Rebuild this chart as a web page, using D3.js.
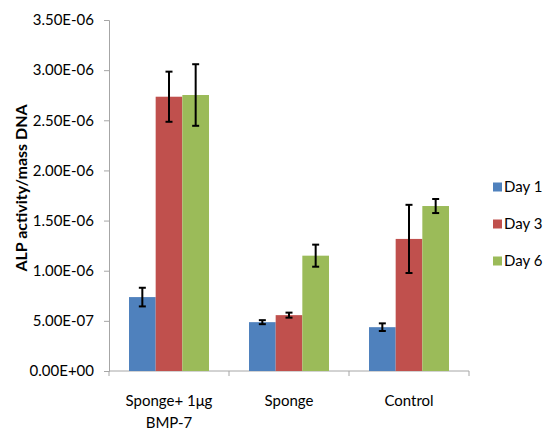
<!DOCTYPE html>
<html>
<head>
<meta charset="utf-8">
<script src="https://cdn.jsdelivr.net/npm/d3@7"></script>
<style>
html, body { margin: 0; padding: 0; background: #fff; }
svg { display: block; }
text { font-family: "Liberation Sans Narrow", "Lato", "Open Sans", sans-serif; fill: #000; }
</style>
</head>
<body>
<svg id="chart" width="544" height="430"></svg>
<script>
const categories = ["Sponge+ 1μg BMP-7", "Sponge", "Control"];
const categoryLines = [["Sponge+ 1μg", "BMP-7"], ["Sponge"], ["Control"]];
const seriesNames = ["Day 1", "Day 3", "Day 6"];
const day1 = [7.37e-7, 4.87e-7, 4.37e-7];
const day3 = [2.735e-6, 5.57e-7, 1.317e-6];
const day6 = [2.752e-6, 1.15e-6, 1.645e-6];
const err1 = [9.3e-8, 2.0e-8, 3.8e-8];
const err3 = [2.5e-7, 2.5e-8, 3.4e-7];
const err6 = [3.07e-7, 1.1e-7, 7.0e-8];
const yTicks = [0, 5e-7, 1e-6, 1.5e-6, 2e-6, 2.5e-6, 3e-6, 3.5e-6];
const colors = ["#4f81bd", "#c0504d", "#9bbb59"];
const yTitle = "ALP activity/mass DNA";

(function () {
const values = [day1, day3, day6];
const errors = [err1, err3, err6];

const svg = d3.select("#chart");
const pLeft = 109, pRight = 469, pTop = 20, pBottom = 371;

const x0 = d3.scaleBand().domain(categories).range([pLeft, pRight]).padding(0);
const x1 = d3.scaleBand().domain(seriesNames)
  .range([x0.bandwidth() / 6, x0.bandwidth() * 5 / 6]).padding(0);
const y = d3.scaleLinear().domain([0, 3.5e-6]).range([pBottom, pTop]);

function fmt(v) {
  if (v === 0) return "0.00E+00";
  const exp = Math.floor(Math.log10(Math.abs(v)) + 1e-9);
  const mant = v / Math.pow(10, exp);
  const sign = exp < 0 ? "-" : "+";
  const e = String(Math.abs(exp)).padStart(2, "0");
  return mant.toFixed(2) + "E" + sign + e;
}

const axisColor = "#a6a6a6";

// Y axis
const yAxis = d3.axisLeft(y).tickValues(yTicks).tickFormat(fmt).tickSize(5).tickPadding(10);
const gy = svg.append("g").attr("transform", `translate(${pLeft},0)`).call(yAxis);
gy.attr("font-family", null).attr("font-size", null);
gy.select(".domain").attr("stroke", axisColor);
gy.selectAll(".tick line").attr("stroke", axisColor);
gy.selectAll(".tick text").attr("font-size", 15);

// X axis
svg.append("line").attr("x1", pLeft).attr("x2", pRight).attr("y1", pBottom).attr("y2", pBottom)
  .attr("stroke", axisColor);
const bounds = categories.map(c => x0(c)).concat([x0(categories[categories.length - 1]) + x0.bandwidth()]);
svg.selectAll(".xtick").data(bounds).enter().append("line")
  .attr("x1", d => d).attr("x2", d => d).attr("y1", pBottom).attr("y2", pBottom + 5)
  .attr("stroke", axisColor);

// Category labels
categories.forEach((c, i) => {
  const cx = x0(c) + x0.bandwidth() / 2;
  const t = svg.append("text").attr("x", cx).attr("y", 406)
    .attr("text-anchor", "middle").attr("font-size", 15);
  categoryLines[i].forEach((ln, j) => {
    t.append("tspan").attr("x", cx).attr("dy", j === 0 ? 0 : 22).text(ln);
  });
});

// Bars
seriesNames.forEach((s, si) => {
  const g = svg.append("g");
  categories.forEach((c, ci) => {
    const v = values[si][ci];
    g.append("rect")
      .attr("x", x0(c) + x1(s))
      .attr("y", y(v))
      .attr("width", x1.bandwidth())
      .attr("height", y(0) - y(v))
      .attr("fill", colors[si]);
  });
});

// Error bars
seriesNames.forEach((s, si) => {
  categories.forEach((c, ci) => {
    const v = values[si][ci], e = errors[si][ci];
    const cx = x0(c) + x1(s) + x1.bandwidth() / 2;
    const g = svg.append("g").attr("stroke", "#000").attr("stroke-width", 2);
    g.append("line").attr("x1", cx).attr("x2", cx).attr("y1", y(v + e)).attr("y2", y(v - e));
    g.append("line").attr("x1", cx - 3.5).attr("x2", cx + 3.5).attr("y1", y(v + e)).attr("y2", y(v + e));
    g.append("line").attr("x1", cx - 3.5).attr("x2", cx + 3.5).attr("y1", y(v - e)).attr("y2", y(v - e));
  });
});

// Y title
svg.append("text")
  .attr("transform", `translate(27,188) rotate(-90)`)
  .attr("text-anchor", "middle")
  .attr("font-size", 16)
  .attr("font-weight", "bold")
  .text(yTitle);

// Legend
const legendY = [187, 224, 261];
seriesNames.forEach((s, i) => {
  svg.append("rect").attr("x", 493).attr("y", legendY[i] - 4.5).attr("width", 9).attr("height", 9)
    .attr("fill", colors[i]);
  svg.append("text").attr("x", 504).attr("y", legendY[i]).attr("dy", "0.35em")
    .attr("font-size", 15).text(s);
});
})();
</script>
</body>
</html>
